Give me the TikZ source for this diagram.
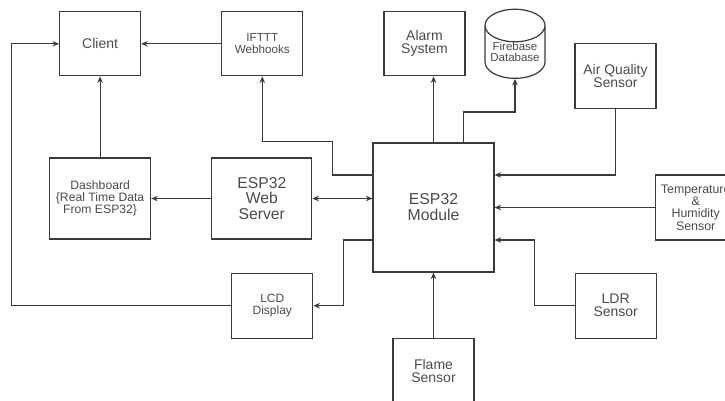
\documentclass[tikz,border=0pt]{standalone}
\usepackage{fontspec}
\setmainfont{Liberation Sans}
\usepackage{xcolor}
\usepackage{tikz}
\usetikzlibrary{positioning,shapes.geometric,arrows.meta}

\definecolor{linegray}{HTML}{3A3A3A}
\definecolor{txtgray}{HTML}{4A4A4A}

\begin{document}
\begin{tikzpicture}[x=1pt,y=1pt,line width=1.2pt,>={Stealth[length=6.5pt,width=5.5pt]},
	blk/.style={draw=linegray,text=txtgray,align=center,minimum width=81pt,minimum height=65pt,inner sep=1pt},
	link/.style={draw=linegray,->}]
		\useasboundingbox (0,0) rectangle (725,-400);
		\node[blk,minimum width=121pt,minimum height=129pt,font=\fontsize{15.8}{16}\selectfont] (mod) at (433.5,-207.5) {ESP32\\Module};
		\node[blk,minimum width=100pt,minimum height=81pt,font=\fontsize{15.7}{15.5}\selectfont,anchor=east,shift={(-60,9)}] (web) at (mod.west) {ESP32\\Web\\Server};
		\node[blk,minimum width=101pt,minimum height=81pt,font=\fontsize{12.2}{11.7}\selectfont,anchor=east,shift={(-60,0)}] (dash) at (web.west) {Dashboard\\\{Real Time Data\\From ESP32\}};
		\node[blk,minimum height=64pt,font=\fontsize{14}{13}\selectfont,anchor=south,shift={(0,81)}] (client) at (dash.north) {Client};
		\node[blk,minimum height=64pt,font=\fontsize{11.7}{12.3}\selectfont,anchor=west,shift={(80,0)}] (ifttt) at (client.east) {IFTTT\\Webhooks};
		\node[blk,minimum height=64pt,font=\fontsize{14}{13}\selectfont,anchor=west,shift={(80,0)}] (alarm) at (ifttt.east) {Alarm\\System};
		\node[cylinder,shape border rotate=90,aspect=0.66,draw=linegray,text=txtgray,align=center,inner sep=0pt,minimum width=60pt,minimum height=64pt,font=\fontsize{11.5}{11.3}\selectfont,anchor=shape center,shift={(90.5,0)}] (fire) at (alarm.center) {Firebase\\Database};
		\node[blk,font=\fontsize{13.9}{13.3}\selectfont,shift={(191,-32.5)}] (air) at (alarm.center) {Air Quality\\Sensor};
		\node[blk,font=\fontsize{12.4}{12.2}\selectfont,anchor=west,shift={(160,0)}] (temp) at (mod.east) {Temperature\\\&\\Humidity\\Sensor};
		\node[blk,font=\fontsize{12}{11.7}\selectfont,anchor=north east,shift={(-59,0)}] (lcd) at (mod.south west) {LCD\\Display};
		\node[blk,font=\fontsize{14}{13}\selectfont,anchor=north west,shift={(80,0)}] (ldr) at (mod.south east) {LDR\\Sensor};
		\node[blk,font=\fontsize{14}{12.7}\selectfont,anchor=north,shift={(0,-65)}] (flame) at (mod.south) {Flame\\Sensor};
		
		\draw[link] (ifttt.west)--(client.east);
		\draw[link] (dash.north)--(client.south);
		\draw[link] (web.west)--(dash.east);
		\draw[link,<->] (web.east)--(web.east-|mod.west);
		\draw[link] (mod.north)--(mod.north|-alarm.south);
		\draw[link] ([xshift=30]mod.north)|-([yshift=-33]fire.south)--(fire.south);
		\draw[link] ([yshift=32.5]mod.west)--++(-40,0)|-([yshift=-65]ifttt.south)--(ifttt.south);
		\draw[link] ([yshift=-32.5]mod.west)--++(-29,0)|-(lcd.east);
		\draw[link] (lcd.west)--++(-220,0)|-(client.west);
		\draw[link] (air.south)|-([yshift=32.5]mod.east);
		\draw[link] (temp.west)--(mod.east);
		\draw[link] (ldr.west)--++(-40,0)|-([yshift=-32.5]mod.east);
		\draw[link] (flame.north)--(mod.south);
	\end{tikzpicture}
\end{document}
